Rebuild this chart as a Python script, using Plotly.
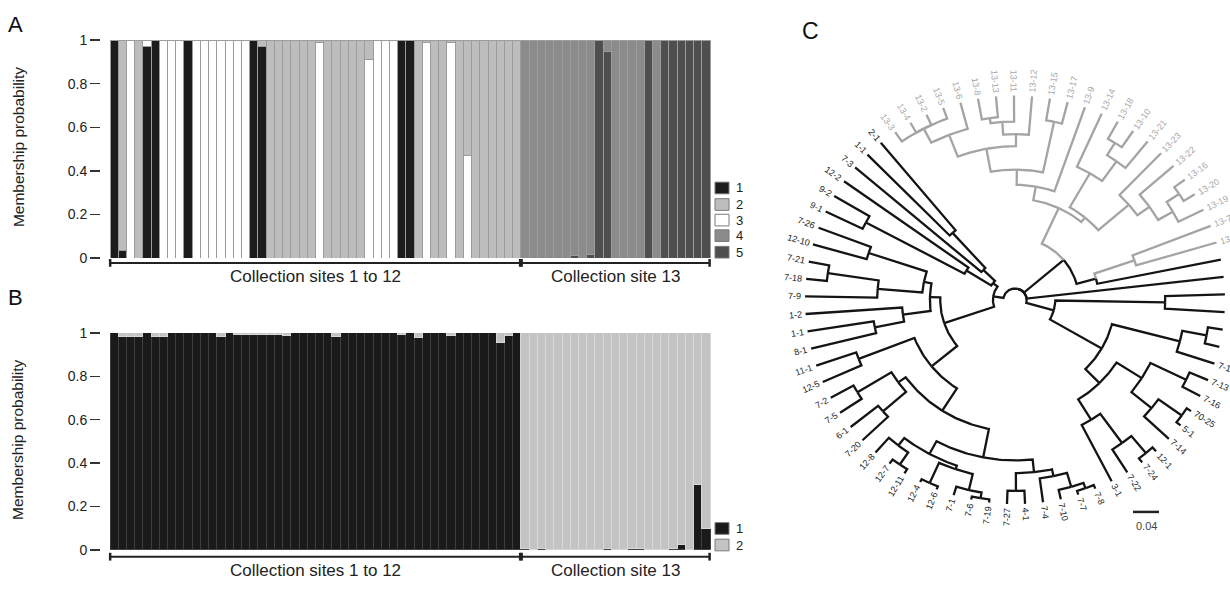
import math
import plotly.graph_objects as go

W, H = 1230, 589
FONT = "Liberation Sans, Arial, sans-serif"

# ---------------- Panel A : membership probability, K = 5 ----------------
bar_index = list(range(73))          # 73 individuals, sites 1-12 (50) then site 13 (23)
a_k1 = [1, 0.035, 0, 0, 0.97, 1, 0, 0, 0, 1,
        0, 0, 0, 0, 0, 0, 0, 1, 0.97, 0,
        0, 0, 0, 0, 0, 0, 0, 0, 0, 0,
        0, 0, 0, 0, 0, 1, 1, 0, 0, 0,
        0, 0, 0, 0, 0, 0, 0, 0, 0, 0,
        0, 0, 0, 0, 0, 0, 0, 0, 0, 0,
        0, 0, 0, 0, 0, 0, 0, 0, 0, 0,
        0, 0, 0]
a_k2 = [0, 0.965, 0, 1, 0, 0, 0, 0, 0, 0,
        0, 0, 0, 0, 0, 0, 0, 0, 0.03, 1,
        1, 1, 1, 1, 1, 0.01, 1, 1, 1, 1,
        1, 0.09, 0, 0, 0, 0, 0, 1, 0.01, 1,
        1, 0.01, 1, 0.53, 1, 1, 1, 1, 1, 1,
        0, 0, 0, 0, 0, 0, 0, 0, 0, 0,
        0, 0, 0, 0, 0, 0, 0, 0, 0, 0,
        0, 0, 0]
a_k3 = [0, 0, 1, 0, 0.03, 0, 1, 1, 1, 0,
        1, 1, 1, 1, 1, 1, 1, 0, 0, 0,
        0, 0, 0, 0, 0, 0.99, 0, 0, 0, 0,
        0, 0.91, 1, 1, 1, 0, 0, 0, 0.99, 0,
        0, 0.99, 0, 0.47, 0, 0, 0, 0, 0, 0,
        0, 0, 0, 0, 0, 0, 0, 0, 0, 0,
        0, 0, 0, 0, 0, 0, 0, 0, 0, 0,
        0, 0, 0]
a_k4 = [0, 0, 0, 0, 0, 0, 0, 0, 0, 0,
        0, 0, 0, 0, 0, 0, 0, 0, 0, 0,
        0, 0, 0, 0, 0, 0, 0, 0, 0, 0,
        0, 0, 0, 0, 0, 0, 0, 0, 0, 0,
        0, 0, 0, 0, 0, 0, 0, 0, 0, 0,
        1, 1, 1, 1, 1, 1, 0.99, 1, 0.985, 0,
        0.05, 1, 1, 1, 1, 0, 1, 0, 0, 0,
        0, 0, 0]
a_k5 = [0, 0, 0, 0, 0, 0, 0, 0, 0, 0,
        0, 0, 0, 0, 0, 0, 0, 0, 0, 0,
        0, 0, 0, 0, 0, 0, 0, 0, 0, 0,
        0, 0, 0, 0, 0, 0, 0, 0, 0, 0,
        0, 0, 0, 0, 0, 0, 0, 0, 0, 0,
        0, 0, 0, 0, 0, 0, 0.01, 0, 0.015, 1,
        0.95, 0, 0, 0, 0, 1, 0, 1, 1, 1,
        1, 1, 1]

# ---------------- Panel B : membership probability, K = 2 ----------------
b_k1 = [1, 0.985, 0.985, 0.985, 1, 0.985, 0.985, 1, 1, 1,
        1, 1, 1, 0.985, 1, 0.992, 0.992, 0.992, 0.992, 0.992,
        0.992, 0.99, 1, 1, 1, 1, 1, 0.985, 1, 1,
        1, 1, 1, 1, 1, 0.995, 1, 0.98, 1, 1,
        1, 0.99, 1, 1, 1, 1, 1, 0.955, 0.99, 1,
        0.005, 0, 0.005, 0, 0, 0, 0, 0, 0, 0,
        0.004, 0, 0, 0.006, 0.004, 0, 0, 0, 0.004, 0.025,
        0, 0.30, 0.10]
b_k2 = [0, 0.015, 0.015, 0.015, 0, 0.015, 0.015, 0, 0, 0,
        0, 0, 0, 0.015, 0, 0.008, 0.008, 0.008, 0.008, 0.008,
        0.008, 0.01, 0, 0, 0, 0, 0, 0.015, 0, 0,
        0, 0, 0, 0, 0, 0.005, 0, 0.02, 0, 0,
        0, 0.01, 0, 0, 0, 0, 0, 0.045, 0.01, 0,
        0.995, 1, 0.995, 1, 1, 1, 1, 1, 1, 1,
        0.996, 1, 1, 0.994, 0.996, 1, 1, 1, 0.996, 0.975,
        1, 0.70, 0.90]

cluster_labels_A = ["1", "2", "3", "4", "5"]
cluster_labels_B = ["1", "2"]
site_groups = ["Collection sites 1 to 12", "Collection site 13"]
site_group_bars = [(0, 49), (50, 72)]
y_ticks = [0, 0.2, 0.4, 0.6, 0.8, 1]
y_ticktext = ["0", "0.2", "0.4", "0.6", "0.8", "1"]

# ---------------- Panel C : circular tree (distances from root) ----------------
TIP = 0.323
grp_P = (0.223, ["3-1", (0.280, ["7-22", (0.315, ["7-24", "12-1"])])])
grp_Q = (0.231, [(0.271, ["7-14", (0.315, ["5-1", "70-25"])]), (0.292, ["7-16", "7-13"])])
grp_T = (0.154, [(0.185, [grp_P, grp_Q]), (0.262, ["7-15", (0.300, ["7-11", "7-12"])])])
clade_RB = (0.062, [grp_T, (0.231, ["7-17", "7-23"])])

clade_BG = (0.129, ["12-3", (0.194, ["13-1", "13-7"])])
clade_GB = (0.169, [(0.231, [(0.254, [(0.280, ["13-19", (0.303, ["13-20", "13-16"])]), "13-22"]), "13-23"]),
                    (0.231, [(0.269, ["13-21", (0.292, ["13-10", "13-18"])]), "13-14"])])
clade_GA = (0.182, ["13-9", (0.206, [(0.288, ["13-17", "13-15"]),
                                     (0.243, [(0.262, ["13-12", (0.282, ["13-11", (0.290, ["13-13", "13-8"])])]),
                                              (0.280, ["13-6", (0.305, ["13-5", "13-2", "13-4", "13-3"])])])])])
clade_RC = (0.098, [clade_BG, (0.160, [clade_GB, clade_GA])])

grp_fan = (0.043, [(0.068, [(0.143, ["2-1", "1-1"]), "7-3"]), (0.088, ["12-2", (0.260, ["9-2", "9-1"])])])
grp_H = (0.143, [(0.237, ["7-26", "12-10"]), (0.212, [(0.291, ["7-21", "7-18"]), "7-9"])])
grp_I = (0.131, [grp_H, (0.174, ["1-2", (0.220, ["1-1", "8-1"])])])
grp_K1 = (0.258, ["11-1", "12-5"])
grp_K2 = (0.222, [(0.283, ["7-2", "7-5"]), (0.269, ["6-1", "7-20"])])
grp_M = (0.277, [(0.292, ["12-8", (0.315, ["12-7", "12-11"])]),
                 (0.283, [(0.318, ["12-4", "12-6"]), (0.309, ["7-1", (0.318, ["7-6", "7-19"])])])])
grp_N = (0.274, [(0.302, ["7-27", "4-1"]), (0.285, ["7-4", (0.308, ["7-10", (0.317, ["7-7", "7-8"])])])])
grp_KK = (0.166, [grp_K1, (0.208, [grp_K2, (0.254, [grp_M, grp_N])])])
clade_LEFT = (0.034, [grp_fan, (0.115, [grp_I, grp_KK])])

tree = (0.018, [clade_RB, "10-1", clade_RC, clade_LEFT])
SCALE_LEN = 0.04

# ---------------- helpers ----------------
def px(x):
    return x / W

def py(y):
    return 1 - y / H

fig = go.Figure()

# ---- Panel A bars ----
colA = {"1": "#1c1c1c", "2": "#bdbdbd", "3": "#ffffff", "4": "#8b8b8b", "5": "#4f4f4f"}
valsA = {"1": a_k1, "2": a_k2, "3": a_k3, "4": a_k4, "5": a_k5}
for k in ["1", "3", "2", "5", "4"]:
    fig.add_bar(x=bar_index, y=[v if v > 0 else None for v in valsA[k]], name=k,
                marker=dict(color=colA[k], line=dict(color="#9c9c9c", width=1)),
                xaxis="x", yaxis="y", showlegend=False, hoverinfo="skip")

# ---- Panel B bars ----
colB = {"1": ("#1a1a1a", "#3e3e3e"), "2": ("#c3c3c3", "#d8d8d8")}
valsB = {"1": b_k1, "2": b_k2}
for k in cluster_labels_B:
    fig.add_bar(x=bar_index, y=[v if v > 0 else None for v in valsB[k]], name=k,
                marker=dict(color=colB[k][0], line=dict(color=colB[k][1], width=1)),
                xaxis="x2", yaxis="y2", showlegend=False, hoverinfo="skip")

# ---- Panel C tree ----
STEP = 360.0 / 73
START = 297.4
leaf_info = []
segs = {True: ([], []), False: ([], [])}

def pol(r, a):
    t = math.radians(a)
    return r * math.cos(t), r * math.sin(t)

def place(node):
    if isinstance(node, str):
        ang = START + len(leaf_info) * STEP
        leaf_info.append((node, ang))
        return ang, TIP, node.startswith("13-")
    h, kids = node
    infos = [place(c) for c in kids]
    ang = (infos[0][0] + infos[-1][0]) / 2
    for ca, ch, cg in infos:
        xs, ys = segs[cg]
        n = max(2, int(abs(ca - ang) / 0.8) + 2)
        for i in range(n):
            a = ang + (ca - ang) * i / (n - 1)
            x, y = pol(h, a)
            xs.append(x); ys.append(y)
        x, y = pol(ch, ca)
        xs.append(x); ys.append(y)
        xs.append(None); ys.append(None)
    return ang, h, all(g for _, _, g in infos)

place(tree)
for gray, color in [(False, "#141414"), (True, "#a4a4a4")]:
    xs, ys = segs[gray]
    fig.add_scatter(x=xs, y=ys, mode="lines", line=dict(color=color, width=2.3),
                    xaxis="x3", yaxis="y3", showlegend=False, hoverinfo="skip")

# scale bar
SB_X0, SB_Y = (1133 - 1015) / 650, (300 - 518) / 650
fig.add_scatter(x=[SB_X0, SB_X0 + SCALE_LEN], y=[SB_Y, SB_Y], mode="lines",
                line=dict(color="#222", width=2.5), xaxis="x3", yaxis="y3",
                showlegend=False, hoverinfo="skip")

annotations = []
LFS = 9
for name, ang in leaf_info:
    nd = sum(ch.isdigit() for ch in name)
    nh = name.count("-")
    w = LFS * (0.556 * nd + 0.333 * nh)
    r = TIP + (4 + w / 2) / 650
    a = ang % 360
    if 90 < a < 270:
        ta = 180 - a
    else:
        ta = -a if a <= 90 else 360 - a
    x, y = pol(r, a)
    annotations.append(dict(x=x, y=y, xref="x3", yref="y3", text=name, showarrow=False,
                            textangle=ta, xanchor="center", yanchor="middle",
                            font=dict(family=FONT, size=LFS,
                                      color="#a8a8a8" if name.startswith("13-") else "#222")))
annotations.append(dict(x=SB_X0 + SCALE_LEN / 2, y=SB_Y - 0.022, xref="x3", yref="y3", text="0.04",
                        showarrow=False, font=dict(family=FONT, size=11, color="#444"),
                        xanchor="center", yanchor="middle"))

# ---- panel letters & titles ----
for txt, x, y, s in [("A", 15, 17, 22), ("B", 15, 298, 22), ("C", 810, 24, 23)]:
    annotations.append(dict(x=px(x), y=py(y), xref="paper", yref="paper", text=txt, showarrow=False,
                            xanchor="center", yanchor="middle", font=dict(family=FONT, size=s, color="#111")))
for yc in [143, 444]:
    annotations.append(dict(x=px(18), y=py(yc), xref="paper", yref="paper", text="Membership probability",
                            textangle=-90, showarrow=False, xanchor="center", yanchor="middle",
                            font=dict(family=FONT, size=15.5, color="#222")))

# ---- brackets & site labels ----
shapes = []
for xr, ytop_px, lab_y in [("x", 262, 276), ("x2", 564, 578)]:
    for (b0, b1), label in zip(site_group_bars, site_groups):
        x0 = b0 - 0.42 if b0 > 0 else b0 - 0.48
        x1 = b1 + 0.4 if b1 < 72 else b1 + 0.45
        shapes.append(dict(type="line", xref=xr, yref="paper", x0=x0, x1=x1,
                           y0=py(ytop_px), y1=py(ytop_px), line=dict(color="#222", width=2)))
        for xe in (x0, x1):
            shapes.append(dict(type="line", xref=xr, yref="paper", x0=xe, x1=xe,
                               y0=py(ytop_px - 4), y1=py(ytop_px + 4), line=dict(color="#222", width=2.5)))
        annotations.append(dict(x=(b0 + b1) / 2, y=py(lab_y), xref=xr, yref="paper", text=label,
                                showarrow=False, xanchor="center", yanchor="middle",
                                font=dict(family=FONT, size=17, color="#222")))

# ---- manual legends ----
for labels, ys, cols in [(cluster_labels_A, [185, 202, 218, 234, 251], [colA[k] for k in cluster_labels_A]),
                         (cluster_labels_B, [535, 552], [colB[k][0] for k in cluster_labels_B])]:
    for lab, yc, c in zip(labels, ys, cols):
        shapes.append(dict(type="rect", xref="paper", yref="paper", x0=px(715), x1=px(729),
                           y0=py(yc - 6), y1=py(yc + 6), fillcolor=c, line=dict(color="#7a7a7a", width=1)))
        annotations.append(dict(x=px(734), y=py(yc), xref="paper", yref="paper", text=lab, showarrow=False,
                                xanchor="left", yanchor="middle", font=dict(family=FONT, size=13, color="#222")))

xr_lo, xr_hi = -0.5 - 9 / 8.22, 72.5 + 2 / 8.22
yaxis_common = dict(range=[0, 1], tickvals=y_ticks, ticktext=y_ticktext, ticks="outside", ticklen=10,
                     tickwidth=1.5, tickcolor="#333", showline=False, showgrid=False, zeroline=False,
                     tickfont=dict(family=FONT, size=14, color="#222"), fixedrange=True)
xaxis_common = dict(range=[xr_lo, xr_hi], visible=False, fixedrange=True)

fig.update_layout(
    width=W, height=H, margin=dict(l=0, r=0, t=0, b=0),
    paper_bgcolor="white", plot_bgcolor="rgba(0,0,0,0)",
    barmode="stack", bargap=0,
    xaxis=dict(domain=[px(101), px(712)], anchor="y", **xaxis_common),
    yaxis=dict(domain=[py(257), py(33)], anchor="x", **yaxis_common),
    xaxis2=dict(domain=[px(101), px(712)], anchor="y2", **xaxis_common),
    yaxis2=dict(domain=[py(557), py(334)], anchor="x2", **yaxis_common),
    xaxis3=dict(domain=[px(760), 1.0], anchor="y3", range=[(760 - 1015) / 650, (1230 - 1015) / 650],
                visible=False, fixedrange=True),
    yaxis3=dict(domain=[0, 1], anchor="x3", range=[(300 - 589) / 650, 300 / 650],
                visible=False, fixedrange=True),
    shapes=shapes, annotations=annotations, showlegend=False,
    font=dict(family=FONT),
)

PAGE_RESET = ("var s=document.createElement('style');"
              "s.textContent='html,body{margin:0!important;padding:0!important;overflow:hidden;}';"
              "document.head.appendChild(s);"
              "document.documentElement.style.margin='0';document.body.style.margin='0';")

fig.write_html("out.html", config={"displayModeBar": False, "staticPlot": True},
               post_script=PAGE_RESET)
